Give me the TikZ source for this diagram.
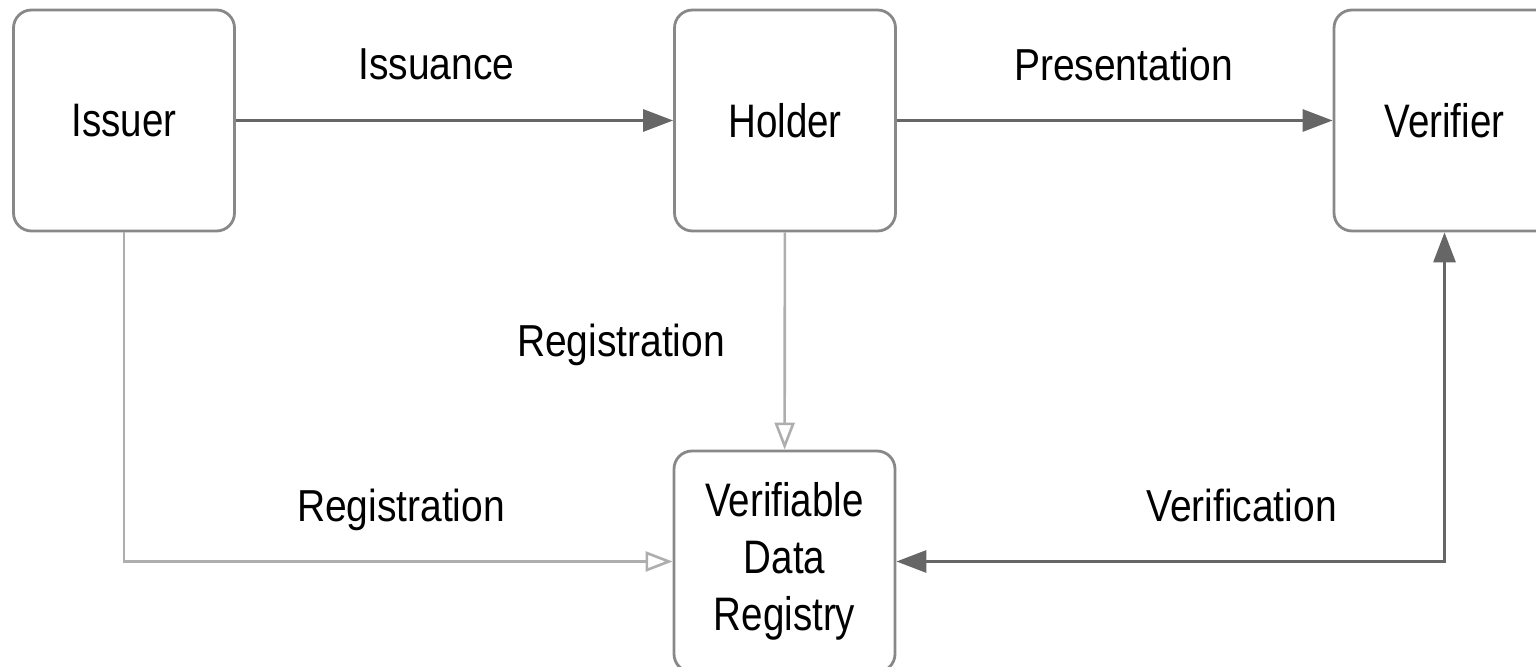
\documentclass[tikz,border=0pt]{standalone}
\usepackage{fontspec}
\setmainfont{Liberation Sans}
\newfontfamily\boxfont[FakeStretch=0.82]{Liberation Sans}
\newfontfamily\lblfont[FakeStretch=0.87]{Liberation Sans}
\usetikzlibrary{arrows.meta}
\definecolor{boxgray}{HTML}{888888}
\definecolor{darkline}{HTML}{666666}
\definecolor{lightline}{HTML}{AEAEAE}
\begin{document}
\begin{tikzpicture}[x=0.5pt,y=-0.5pt,
  entity/.style={draw=boxgray, line width=1.4pt, rounded corners=9pt, fill=white,
    minimum width=110.5pt, minimum height=110.5pt, inner sep=0pt, align=center,
    font=\boxfont\fontsize{23.5}{28.5}\selectfont},
  lbl/.style={anchor=base, inner sep=0pt, font=\lblfont\fontsize{22.4}{26}\selectfont},
  darkarrow/.style={draw=darkline, line width=1.5pt, -{Triangle[length=15pt,width=11pt]}},
  lightarrow/.style={draw=lightline, line width=1.3pt, -{Triangle[open,length=13.5pt,width=10pt,fill=white]}}]
\useasboundingbox (0,0) rectangle (1536,667);
\node[entity] (issuer) at (124,120.5) {Issuer};
\node[entity] (holder) at (785,120.5) {Holder};
\node[entity] (verifier) at (1444.5,120.5) {Verifier};
\node[entity] (vdr) at (784.5,561.5) {Verifiable\\Data\\Registry};
\draw[darkarrow] (issuer) -- (holder);
\draw[darkarrow] (holder) -- (verifier);
\draw[lightarrow] (holder) -- (vdr);
\draw[lightarrow] (issuer.south) |- (vdr.west);
\draw[darkarrow, {Triangle[length=15pt,width=11pt]}-{Triangle[length=15pt,width=11pt]}] (vdr.east) -| (verifier.south);
\node[lbl] (l1) at (436.5,80) {Issuance};
\node[lbl] (l2) at (1123.5,81) {Presentation};
\node[lbl] (l3) at (621,357) {Registration};
\node[lbl] (l4) at (401,522) {Registration};
\node[lbl] (l5) at (1241.5,522) {Verification};
\end{tikzpicture}
\end{document}
